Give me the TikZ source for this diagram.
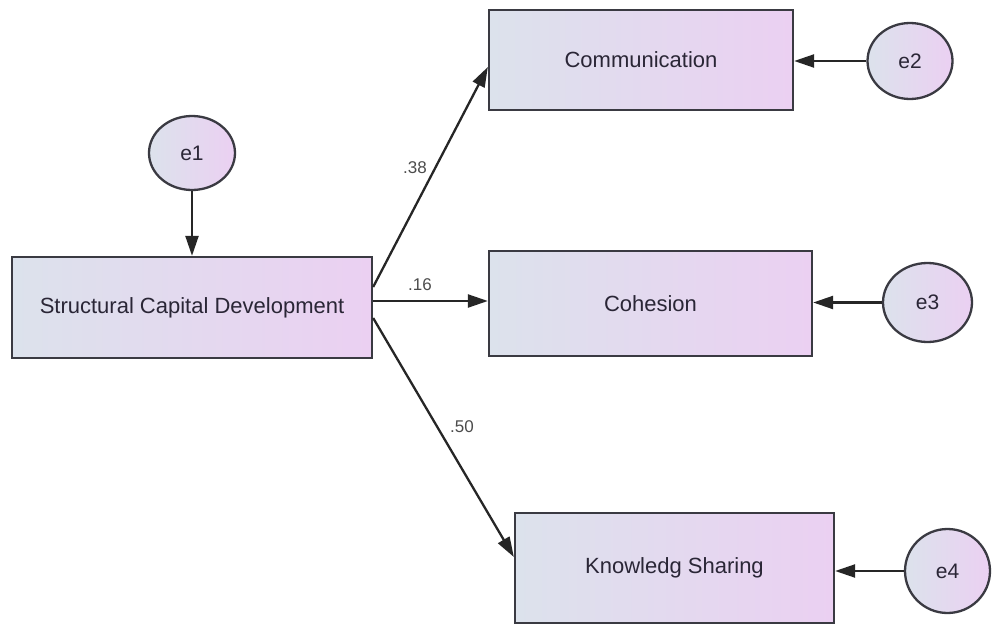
\documentclass[tikz,border=0pt]{standalone}
\usepackage{fontspec}
\setmainfont{Liberation Sans}
\usetikzlibrary{arrows.meta,shapes.geometric}
\definecolor{gl}{HTML}{DCE2EC}
\definecolor{gr}{HTML}{EBD0F2}
\definecolor{bd}{HTML}{3A3A42}
\definecolor{tx}{HTML}{2A2636}
\tikzset{
  varbox/.style={draw=bd, line width=2.3pt, left color=gl, right color=gr, inner sep=0pt,
    font=\fontsize{22}{26}\selectfont, text=tx},
  errnode/.style={ellipse, draw=bd, line width=2.3pt, left color=gl, right color=gr, inner sep=0pt,
    font=\fontsize{21}{25}\selectfont, text=tx},
  pathline/.style={draw=black!85, line width=2.3pt, -{Triangle[length=20pt,width=13pt]}},
  coef/.style={font=\fontsize{17}{20}\selectfont, text=black!70}
}
\begin{document}
\begin{tikzpicture}[x=1pt,y=-1pt]
\useasboundingbox (0,0) rectangle (993,626);
\node[varbox, minimum width=360pt, minimum height=101pt] (scd) at (192,307.5) {Structural Capital Development};
\node[varbox, minimum width=304pt, minimum height=100pt] (com) at (641,60) {Communication};
\node[varbox, minimum width=323pt, minimum height=105pt] (coh) at (650.5,303.5) {Cohesion};
\node[varbox, minimum width=319pt, minimum height=110pt] (kno) at (674.5,568) {Knowledg Sharing};
\node[errnode, minimum width=86pt, minimum height=74pt] (e1) at (192,153) {e1};
\node[errnode, minimum width=85pt, minimum height=76pt] (e2) at (910,61) {e2};
\node[errnode, minimum width=89pt, minimum height=79pt] (e3) at (927.5,302.5) {e3};
\node[errnode, minimum width=85pt, minimum height=84pt] (e4) at (947.5,571) {e4};
\draw[pathline] (e1) -- (scd);
\draw[pathline] (e2) -- (com.east |- e2);
\draw[pathline] (e3) -- (coh.east |- e3);
\draw[pathline] (e4) -- (kno.east |- e4);
\draw[pathline] ([yshift=20.5pt]scd.east) -- ([yshift=-7pt]com.west);
\draw[pathline] ([yshift=6.5pt]scd.east) -- ([yshift=2.5pt]coh.west);
\draw[pathline] ([yshift=-10.5pt]scd.east) -- ([yshift=11pt]kno.west);
\node[coef] (c1) at (415,168) {.38};
\node[coef] (c2) at (420,285) {.16};
\node[coef] (c3) at (462,427) {.50};
\end{tikzpicture}
\end{document}
